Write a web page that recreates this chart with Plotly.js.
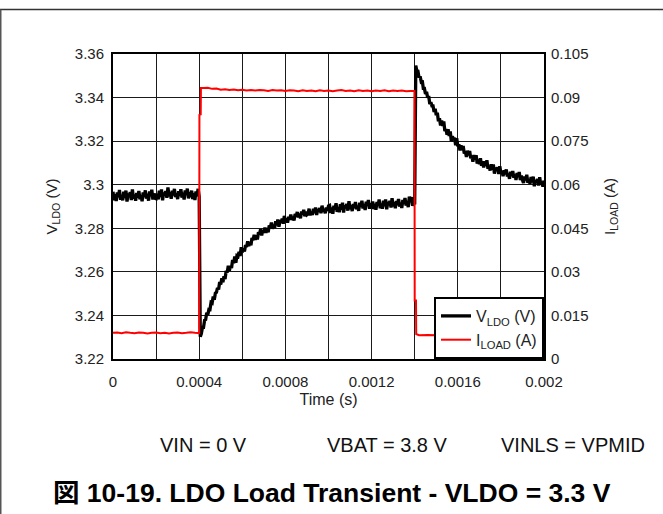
<!DOCTYPE html>
<html>
<head>
<meta charset="utf-8">
<script src="https://cdn.plot.ly/plotly-3.0.1.min.js"></script>
<style>
html,body{margin:0;padding:0;background:#fff;}
#chart{width:663px;height:514px;}
</style>
</head>
<body>
<div id="chart"></div>
<script>
// ---- V_LDO (V), sampled every 5 us from t = 0 ----
const vLdoT0 = 0;
const vLdoDt = 0.000005;
const vLdo = [
3.2968,3.2929,3.2956,3.2925,3.2964,3.2943,3.2976,3.2931,3.2953,3.2928,3.2968,3.2939,3.2973,3.2923,3.2959,3.2946,3.2966,3.2930,3.2978,3.2937,
3.2955,3.2926,3.2962,3.2941,3.2971,3.2933,3.2951,3.2924,3.2965,3.2944,3.2974,3.2936,3.2958,3.2927,3.2969,3.2948,3.2977,3.2932,3.2960,3.2938,
3.2936,3.2958,3.2933,3.2973,3.2944,3.2978,3.2928,3.2964,3.2951,3.2971,3.2940,3.2988,3.2947,3.2965,3.2936,3.2972,3.2951,3.2981,3.2943,3.2961,
3.2934,3.2970,3.2949,3.2979,3.2941,3.2963,3.2932,3.2974,3.2953,3.2982,3.2937,3.2965,3.2943,3.2973,3.2934,3.2961,3.2930,3.2969,3.2948,3.2981,
3.2945,3.2302,3.2317,3.2345,3.2345,3.2378,3.2381,3.2412,3.2403,3.2428,3.2427,3.2460,3.2457,3.2487,3.2472,3.2502,3.2506,3.2527,3.2519,3.2553,
3.2542,3.2571,3.2552,3.2580,3.2567,3.2604,3.2597,3.2628,3.2605,3.2628,3.2618,3.2654,3.2640,3.2671,3.2642,3.2674,3.2671,3.2692,3.2673,3.2713,
3.2690,3.2708,3.2693,3.2723,3.2714,3.2740,3.2718,3.2736,3.2722,3.2755,3.2745,3.2770,3.2747,3.2767,3.2749,3.2782,3.2772,3.2796,3.2767,3.2791,
3.2779,3.2803,3.2779,3.2801,3.2782,3.2813,3.2801,3.2826,3.2798,3.2816,3.2801,3.2832,3.2814,3.2840,3.2807,3.2835,3.2828,3.2844,3.2821,3.2857,
3.2830,3.2845,3.2826,3.2853,3.2840,3.2863,3.2838,3.2853,3.2836,3.2866,3.2853,3.2875,3.2850,3.2867,3.2846,3.2877,3.2864,3.2885,3.2855,3.2876,
3.2862,3.2866,3.2890,3.2860,3.2876,3.2861,3.2890,3.2870,3.2895,3.2861,3.2887,3.2879,3.2893,3.2869,3.2904,3.2876,3.2889,3.2869,3.2895,3.2881,
3.2903,3.2905,3.2870,3.2895,3.2867,3.2904,3.2886,3.2915,3.2876,3.2896,3.2874,3.2911,3.2885,3.2917,3.2872,3.2905,3.2894,3.2912,3.2881,3.2924,
3.2888,3.2905,3.2879,3.2912,3.2893,3.2921,3.2887,3.2903,3.2880,3.2917,3.2898,3.2926,3.2891,3.2911,3.2884,3.2922,3.2903,3.2930,3.2890,3.2915,
3.2896,3.2923,3.2888,3.2913,3.2885,3.2921,3.2903,3.2932,3.2892,3.2913,3.2890,3.2926,3.2901,3.2932,3.2887,3.2920,3.2908,3.2926,3.2895,3.2938,
3.2901,3.2919,3.2892,3.2925,3.2907,3.2934,3.2900,3.2917,3.2893,3.2930,3.2912,3.2939,3.2904,3.2925,3.2897,3.2945,3.2930,3.2943,3.2903,3.2928,
3.2909,3.3547,3.3522,3.3521,3.3492,3.3498,3.3474,3.3478,3.3442,3.3442,3.3417,3.3426,3.3400,3.3407,3.3370,3.3379,3.3362,3.3362,3.3334,3.3349,
3.3319,3.3331,3.3291,3.3305,3.3272,3.3295,3.3270,3.3290,3.3246,3.3256,3.3229,3.3254,3.3224,3.3245,3.3199,3.3222,3.3206,3.3216,3.3181,3.3214,
3.3176,3.3185,3.3157,3.3181,3.3159,3.3178,3.3143,3.3154,3.3127,3.3156,3.3135,3.3155,3.3121,3.3134,3.3106,3.3136,3.3115,3.3136,3.3097,3.3115,
3.3094,3.3121,3.3087,3.3107,3.3079,3.3107,3.3087,3.3112,3.3073,3.3087,3.3065,3.3094,3.3069,3.3093,3.3051,3.3078,3.3066,3.3080,3.3049,3.3085,
3.3052,3.3064,3.3039,3.3066,3.3048,3.3070,3.3038,3.3051,3.3027,3.3059,3.3040,3.3063,3.3032,3.3047,3.3022,3.3054,3.3035,3.3058,3.3021,3.3042,
3.3022,3.3008,3.3038,3.3020,3.3046,3.3009,3.3025,3.3004,3.3035,3.3011,3.3037,3.2993,3.3021,3.3011,3.3026,3.2996,3.3034,3.3001,3.3014,3.2991,
3.3019
];

// ---- I_LOAD (A) ----
const tLoad = [
0,0.00002,0.00004,0.00006,0.00008,0.0001,0.00012,0.00014,0.00016,0.00018,0.0002,0.00022,0.00024,0.00026,0.00028,0.0003,0.00032,0.00034,0.00036,0.00038,0.0004,
0.000401,0.000407,0.000408,
0.00042,0.00044,0.00046,0.00048,0.0005,0.00052,0.00054,0.00056,0.00058,0.0006,0.00062,0.00064,0.00066,0.00068,0.0007,0.00072,0.00074,0.00076,0.00078,0.0008,
0.00082,0.00084,0.00086,0.00088,0.0009,0.00092,0.00094,0.00096,0.00098,0.001,0.00102,0.00104,0.00106,0.00108,0.0011,0.00112,0.00114,0.00116,0.00118,0.0012,
0.00122,0.00124,0.00126,0.00128,0.0013,0.00132,0.00134,0.00136,0.00138,
0.001399,0.0014,0.001406,0.001407,
0.00142,0.00146,0.0015,0.00154,0.00158,0.00162,0.00166,0.0017,0.00174,0.00178,0.00182,0.00186,0.0019,0.00194,0.00198,0.002
];
const iLoad = [
0.0090,0.0091,0.0089,0.0092,0.0090,0.0089,0.0091,0.0090,0.0088,0.0090,0.0091,0.0089,0.0090,0.0088,0.0090,0.0091,0.0089,0.0090,0.0092,0.0090,0.0089,
0.0840,0.0842,0.0933,
0.0933,0.0934,0.0930,0.0931,0.0927,0.0929,0.0926,0.0928,0.0925,0.0927,0.0924,0.0926,0.0924,0.0926,0.0925,0.0923,0.0926,0.0924,0.0925,0.0923,
0.0925,0.0924,0.0922,0.0925,0.0923,0.0924,0.0922,0.0925,0.0923,0.0924,0.0922,0.0924,0.0926,0.0923,0.0924,0.0922,0.0925,0.0923,0.0924,0.0922,
0.0924,0.0923,0.0925,0.0922,0.0924,0.0923,0.0924,0.0922,0.0923,
0.0923,0.0201,0.0201,0.0086,
0.0082,0.0083,0.0082,0.0084,0.0082,0.0083,0.0082,0.0083,0.0084,0.0082,0.0083,0.0082,0.0083,0.0082,0.0084,0.0083
];

// ---- axes ticks ----
const xTickVals = [0,0.0002,0.0004,0.0006,0.0008,0.001,0.0012,0.0014,0.0016,0.0018,0.002];
const xTickText = ['0','','0.0004','','0.0008','','0.0012','','0.0016','','0.002'];
const yTickVals = [3.22,3.24,3.26,3.28,3.30,3.32,3.34,3.36];
const yTickText = ['3.22','3.24','3.26','3.28','3.3','3.32','3.34','3.36'];
const y2TickVals = [0,0.015,0.03,0.045,0.06,0.075,0.09,0.105];
const y2TickText = ['0','0.015','0.03','0.045','0.06','0.075','0.09','0.105'];

const seriesNames = ['V<sub>LDO</sub> (V)','I<sub>LOAD</sub> (A)'];
const conditions = ['VIN = 0 V','VBAT = 3.8 V','VINLS = VPMID'];
const figTitle = '図 10-19. LDO Load Transient - VLDO = 3.3 V';

const FONT = 'Liberation Sans, Arial, Noto Sans CJK JP, sans-serif';
const GRID = '#1a1a1a';

const traces = [
  {type:'scatter', mode:'lines', name:seriesNames[0], x0:vLdoT0, dx:vLdoDt, y:vLdo,
   line:{color:'#000000', width:3.3, simplify:false}, yaxis:'y'},
  {type:'scatter', mode:'lines', name:seriesNames[1], x:tLoad, y:iLoad,
   line:{color:'#ff0000', width:2, simplify:false}, yaxis:'y2'}
];

const W = 663, H = 514, L = 113, R = 119, T = 54, B = 155;
const pw = W - L - R, ph = H - T - B;
const px = v => (v - L) / pw;
const py = v => (H - B - v) / ph;

const layout = {
  width: W, height: H,
  margin: {l:L, r:R, t:T, b:B, pad:0},
  paper_bgcolor:'#ffffff', plot_bgcolor:'#ffffff',
  font:{family:FONT, size:16, color:'#222'},
  showlegend:true,
  legend:{x:1, xanchor:'right', y:0, yanchor:'bottom', bgcolor:'#ffffff',
          bordercolor:'#000', borderwidth:2, font:{size:16, color:'#222'},
          itemwidth:30, tracegroupgap:0},
  xaxis:{range:[0,0.002], tickmode:'array', tickvals:xTickVals, ticktext:xTickText,
         showgrid:true, gridcolor:GRID, gridwidth:1, zeroline:false,
         showline:true, linecolor:'#000', linewidth:2, mirror:true, ticks:'',
         ticklabelstandoff:8,
         tickfont:{size:15}, title:{text:'Time (s)', font:{size:16}, standoff:5}},
  yaxis:{range:[3.22,3.36], tickmode:'array', tickvals:yTickVals, ticktext:yTickText,
         showgrid:true, gridcolor:GRID, gridwidth:1, zeroline:false,
         showline:true, linecolor:'#000', linewidth:2, mirror:true, ticks:'',
         ticklabelstandoff:4,
         tickfont:{size:15}, title:{text:'V<sub>LDO</sub> (V)', font:{size:15}, standoff:14}},
  yaxis2:{range:[0,0.105], overlaying:'y', side:'right', tickmode:'array',
          tickvals:y2TickVals, ticktext:y2TickText, showgrid:false, zeroline:false,
          showline:false, ticks:'', ticklabelstandoff:6, tickfont:{size:15},
          title:{text:'I<sub>LOAD</sub> (A)', font:{size:15}, standoff:16}},
  shapes:[
    {type:'line', xref:'paper', yref:'paper', x0:px(0), x1:px(W), y0:py(9.5), y1:py(9.5),
     line:{color:'#333', width:1.5}},
    {type:'line', xref:'paper', yref:'paper', x0:px(0.75), x1:px(0.75), y0:py(9.5), y1:py(H),
     line:{color:'#555', width:1.5}}
  ],
  annotations:[
    {xref:'paper', yref:'paper', x:px(203), y:py(445), text:conditions[0], showarrow:false,
     xanchor:'center', yanchor:'middle', font:{family:FONT, size:20, color:'#111'}},
    {xref:'paper', yref:'paper', x:px(387), y:py(445), text:conditions[1], showarrow:false,
     xanchor:'center', yanchor:'middle', font:{family:FONT, size:20, color:'#111'}},
    {xref:'paper', yref:'paper', x:px(573), y:py(445), text:conditions[2], showarrow:false,
     xanchor:'center', yanchor:'middle', font:{family:FONT, size:20, color:'#111'}},
    {xref:'paper', yref:'paper', x:px(332), y:py(493), text:'<b>'+figTitle+'</b>', showarrow:false,
     xanchor:'center', yanchor:'middle', font:{family:FONT, size:26.5, color:'#000'}}
  ]
};

Plotly.newPlot('chart', traces, layout, {displayModeBar:false, staticPlot:true});
</script>
</body>
</html>
